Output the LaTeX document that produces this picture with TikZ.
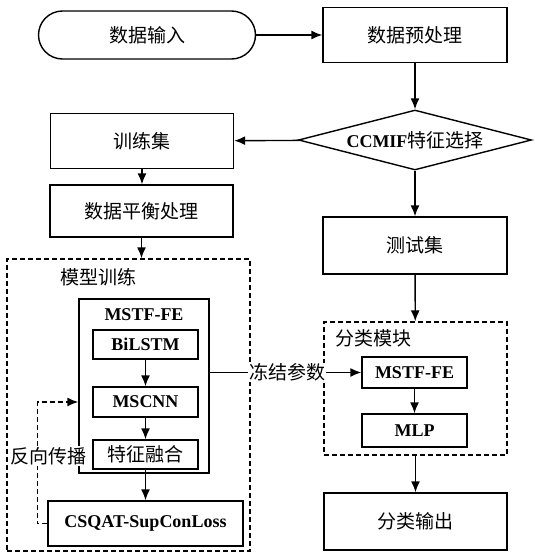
\documentclass[tikz,border=0pt]{standalone}
\usepackage{fontspec}
\setmainfont{Liberation Serif}
\newfontfamily\cjk{Noto Sans CJK SC}
\usetikzlibrary{shapes.geometric,arrows.meta}
\begin{document}
\begin{tikzpicture}[x=1pt,y=-1pt,
  every node/.style={font=\fontsize{18}{20}\selectfont, inner sep=0pt},
  box/.style={draw, line width=1.4pt, rectangle},
  dbox/.style={draw, line width=1.4pt, dash pattern=on 5pt off 3pt, rectangle},
  lat/.style={font=\fontsize{18}{20}\selectfont\bfseries},
  ch/.style={font=\fontsize{19}{21}\selectfont\cjk},
  arr/.style={line width=1.4pt, -{Latex[length=11pt,width=9pt]}},
  lab/.style={fill=white, inner sep=1pt}]
\useasboundingbox (0,0) rectangle (535,557);
% top row
\node[box, ch, rounded corners=24pt, minimum width=217pt, minimum height=48pt] (in) at (147,35) {数据输入};
\node[box, ch, minimum width=184pt, minimum height=55pt] (pre) at (415,35) {数据预处理};
\node[draw, line width=1.4pt, diamond, aspect=3.9, minimum width=233pt, minimum height=60pt] (sel) at (415,140) {{\fontsize{18}{20}\selectfont\bfseries CCMIF}{\fontsize{19}{21}\selectfont\cjk 特征选择}};
\node[box, ch, minimum width=183pt, minimum height=55pt] (train) at (142,141) {训练集};
\node[box, ch, minimum width=183pt, minimum height=52pt] (bal) at (141.5,211) {数据平衡处理};
\node[box, ch, minimum width=184pt, minimum height=57pt] (test) at (415,245.5) {测试集};
% model training
\node[dbox, minimum width=243pt, minimum height=292pt] (model) at (128.5,405) {};
\node[ch, anchor=west] (mlab) at (60,277) {模型训练};
\node[box, minimum width=130pt, minimum height=174pt] (outer) at (144,386) {};
\node[lat] (olab) at (144,315) {MSTF-FE};
\node[box, lat, minimum width=105pt, minimum height=29pt] (bil) at (145.5,344.5) {BiLSTM};
\node[box, lat, minimum width=105pt, minimum height=30pt] (mscnn) at (145.5,402) {MSCNN};
\node[box, ch, minimum width=105pt, minimum height=29pt] (fus) at (145.5,454.5) {特征融合};
\node[box, lat, minimum width=195pt, minimum height=45pt] (loss) at (145.5,523.5) {CSQAT-SupConLoss};
% classification
\node[dbox, minimum width=183pt, minimum height=133pt] (cls) at (415.5,388.5) {};
\node[ch, anchor=west] (clab) at (335,338) {分类模块};
\node[box, lat, minimum width=105pt, minimum height=31pt] (mstf2) at (414.5,372.5) {MSTF-FE};
\node[box, lat, minimum width=105pt, minimum height=33pt] (mlp) at (414.5,430.5) {MLP};
\node[box, ch, minimum width=183pt, minimum height=57pt] (out) at (415.5,521.5) {分类输出};
% connectors
\draw[arr] (in) -- (pre);
\draw[arr] (pre) -- (sel);
\draw[arr] (sel) -- (train);
\draw[arr] (train.south) -- (train.south |- bal.north);
\draw[arr] (bal.south) -- (bal.south |- model.north);
\draw[arr] (sel.south) -- (sel.south |- test.north);
\draw[arr] (test) -- (cls);
\draw[arr] (bil) -- (mscnn);
\draw[arr] (mscnn) -- (fus);
\draw[arr] (fus) -- (loss);
\draw[arr] (mstf2) -- (mlp);
\draw[arr] (cls) -- (out);
\draw[arr] (mstf2.west -| outer.east) -- node[lab, ch, pos=0.51] (frz) {冻结参数} (mstf2.west);
\draw[arr, dash pattern=on 5pt off 3pt] (loss.west) -- ++(-10,0) |- (mscnn.west -| outer.west);
\node[lab, ch] (bp) at (48,456) {反向传播};
\end{tikzpicture}
\end{document}
